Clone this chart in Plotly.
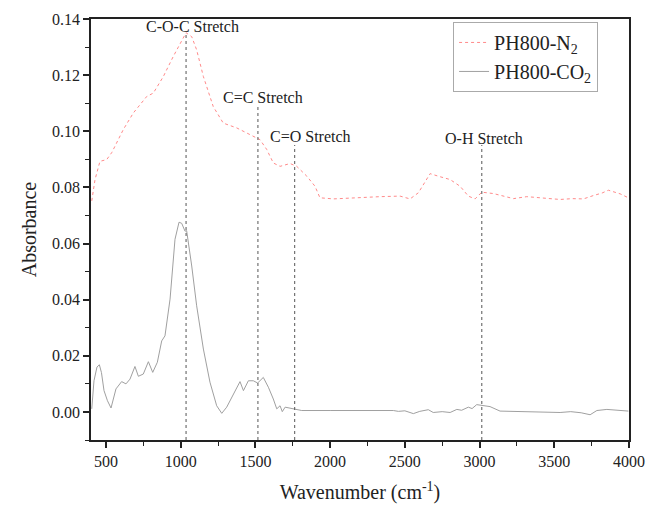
import plotly.graph_objects as go

# PH800-N2 (red dotted)
n2_wn = [405, 427, 460, 505, 540, 572, 616, 683, 730, 773, 817, 884, 951, 1007, 1036, 1074, 1107,
         1152, 1218, 1285, 1375, 1464, 1531, 1576, 1620, 1665, 1700, 1732, 1777, 1844, 1899, 1932,
         2022, 2200, 2334, 2468, 2535, 2591, 2669, 2736, 2803, 2870, 2925, 2970, 3015, 3093, 3160,
         3227, 3316, 3420, 3539, 3620, 3695, 3762, 3820, 3862, 3900, 3941, 3996]
n2_abs = [0.0752, 0.0828, 0.0893, 0.0899, 0.0925, 0.0958, 0.1006, 0.1065, 0.1095, 0.1124, 0.1136,
          0.1195, 0.1267, 0.1325, 0.1351, 0.1337, 0.1290, 0.1195, 0.1088, 0.1029, 0.1012, 0.0988,
          0.0970, 0.0935, 0.0887, 0.0875, 0.0880, 0.0885, 0.0875, 0.0840, 0.0804, 0.0763, 0.0759,
          0.0765, 0.0767, 0.0769, 0.0759, 0.0781, 0.0849, 0.0838, 0.0828, 0.0804, 0.0769, 0.0759,
          0.0783, 0.0778, 0.0768, 0.0760, 0.0767, 0.0762, 0.0757, 0.0760, 0.0759, 0.0771, 0.0780,
          0.0790, 0.0783, 0.0777, 0.0763]

# PH800-CO2 (gray solid)
co2_wn = [405, 420, 440, 456, 470, 487, 510, 534, 567, 605, 634, 661, 694, 717, 750, 784, 813, 844,
          873, 895, 929, 962, 989, 1007, 1029, 1040, 1074, 1107, 1152, 1196, 1241, 1275, 1308, 1353,
          1397, 1420, 1453, 1486, 1515, 1553, 1587, 1620, 1643, 1665, 1680, 1699, 1754, 1810, 2000,
          2200, 2423, 2457, 2500, 2557, 2600, 2657, 2690, 2750, 2803, 2848, 2880, 2925, 2950, 2981,
          3015, 3040, 3070, 3137, 3200, 3249, 3330, 3420, 3539, 3610, 3680, 3740, 3785, 3852, 3920,
          3996]
co2_abs = [0.0011, 0.0111, 0.0160, 0.0168, 0.0140, 0.0076, 0.0040, 0.0014, 0.0082, 0.0108, 0.0100,
           0.0117, 0.0162, 0.0127, 0.0135, 0.0179, 0.0141, 0.0177, 0.0253, 0.0271, 0.0402, 0.0615,
           0.0676, 0.0672, 0.0644, 0.0646, 0.0520, 0.0378, 0.0224, 0.0106, 0.0022, -0.0005, 0.0017,
           0.0064, 0.0108, 0.0076, 0.0111, 0.0111, 0.0103, 0.0123, 0.0088, 0.0046, 0.0011, 0.0022,
           0.0001, 0.0017, 0.0011, 0.0005, 0.0005, 0.0005, 0.0005, 0.0002, 0.0004, -0.0006, 0.0002,
           0.0008, -0.0002, 0.0001, -0.0002, 0.0009, 0.0006, 0.0017, 0.0012, 0.0026, 0.0024, 0.0021,
           0.0019, 0.0003, 0.0002, 0.0001, 0.0002, -0.0001, -0.0002, 0.0001, -0.0003, -0.0010,
           0.0005, 0.0009, 0.0006, 0.0003]

band_labels = ["C-O-C Stretch", "C=C Stretch", "C=O Stretch", "O-H Stretch"]
band_pos = [1036, 1517, 1763, 3015]
band_tops = [0.135, 0.109, 0.0951, 0.0951]
label_x = [1076, 1551, 1872, 3030]
label_y = [0.1372, 0.1122, 0.0983, 0.0976]

x_range = [400, 4000]
y_range = [-0.01, 0.14]
x_ticks = [500, 1000, 1500, 2000, 2500, 3000, 3500, 4000]
y_ticks = [0.00, 0.02, 0.04, 0.06, 0.08, 0.10, 0.12, 0.14]

FONT = "Liberation Serif"

fig = go.Figure()
fig.add_trace(go.Scatter(x=n2_wn, y=n2_abs, mode="lines", name="PH800-N<sub>2</sub>",
                         line=dict(color="#ff8a8a", width=1, dash="dot")))
fig.add_trace(go.Scatter(x=co2_wn, y=co2_abs, mode="lines", name="PH800-CO<sub>2</sub>",
                         line=dict(color="#a0a0a0", width=1)))

for xp, yt in zip(band_pos, band_tops):
    fig.add_shape(type="line", x0=xp, x1=xp, y0=y_range[0], y1=yt, xref="x", yref="y",
                  line=dict(color="#555555", width=1, dash="dot"))

for lab, lx, ly in zip(band_labels, label_x, label_y):
    fig.add_annotation(x=lx, y=ly, text=lab, showarrow=False, xref="x", yref="y",
                       font=dict(family=FONT, size=16, color="#222222"))

axis_common = dict(showline=True, linecolor="#222222", linewidth=1.6, mirror=True,
                   ticks="outside", ticklen=6, tickwidth=1.6, tickcolor="#222222",
                   showgrid=False, zeroline=False, automargin=False,
                   tickfont=dict(family=FONT, size=16, color="#222222"))

fig.update_xaxes(range=x_range, tickvals=x_ticks,
                 minor=dict(ticks="outside", ticklen=4, tickwidth=1.4, tickcolor="#222222", dtick=250),
                 title=dict(text="Wavenumber (cm<sup>-1</sup>)", font=dict(family=FONT, size=20, color="#222222"),
                            standoff=16),
                 **axis_common)
fig.update_yaxes(range=y_range, tickvals=y_ticks, tickformat=".2f",
                 minor=dict(ticks="outside", ticklen=4, tickwidth=1.4, tickcolor="#222222", dtick=0.01),
                 title=dict(text="Absorbance", font=dict(family=FONT, size=20, color="#222222"),
                            standoff=10),
                 **axis_common)

fig.update_layout(
    width=649, height=510,
    margin=dict(l=91, r=20, t=19, b=70),
    plot_bgcolor="white", paper_bgcolor="white",
    legend=dict(x=0.673, y=0.993, xanchor="left", yanchor="top",
                bgcolor="white", bordercolor="#aaaaaa", borderwidth=1,
                font=dict(family=FONT, size=20, color="#222222"),
                tracegroupgap=0, itemwidth=30),
    showlegend=True,
)

fig.write_html("out.html")
